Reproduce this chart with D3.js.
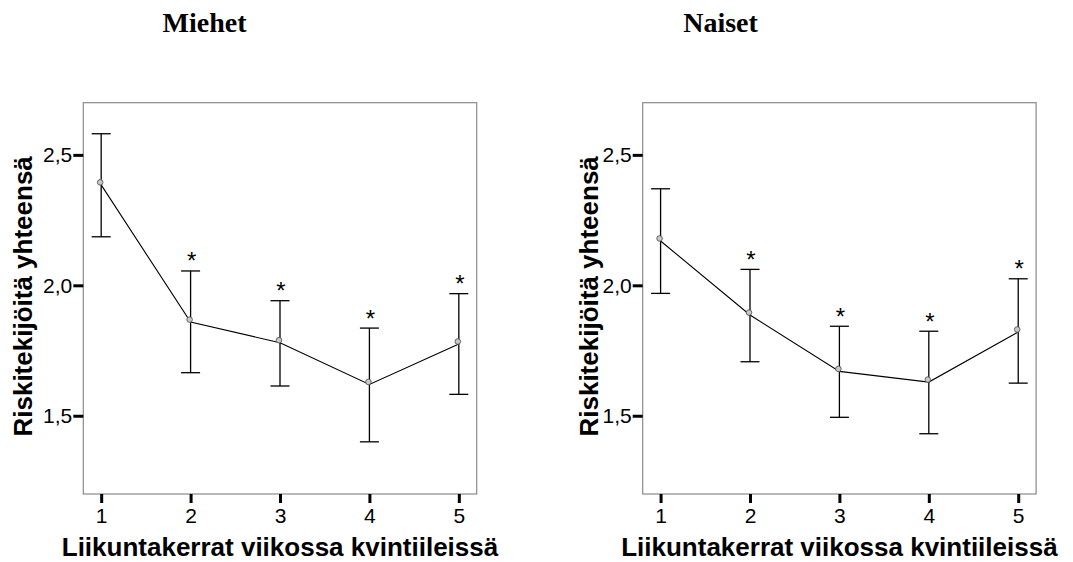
<!DOCTYPE html>
<html>
<head>
<meta charset="utf-8">
<script src="https://cdn.jsdelivr.net/npm/d3@7"></script>
<style>
    body { margin: 0; background: white; }
</style>
</head>
<body>
<div id="chart"></div>
<script>
// Riskitekijöiden keskiarvot ja 95 % luottamusvälit liikuntakvintiileittäin
var groups = [1, 2, 3, 4, 5];
var menMean = [2.385, 1.859, 1.780, 1.620, 1.775];
var menLow = [2.186, 1.665, 1.614, 1.400, 1.582];
var menHigh = [2.581, 2.055, 1.941, 1.836, 1.968];
var womenMean = [2.170, 1.886, 1.670, 1.629, 1.821];
var womenLow = [1.969, 1.707, 1.494, 1.431, 1.625];
var womenHigh = [2.370, 2.061, 1.843, 1.824, 2.025];
var significant = [false, true, true, true, true];
var yTicks = [1.5, 2.0, 2.5];
var yTickLabels = ["1,5", "2,0", "2,5"];
var xLabel = "Liikuntakerrat viikossa kvintiileissä";
var yLabel = "Riskitekijöitä yhteensä";

var width = 1073, height = 562;
var boxW = 393.4, boxH = 391.3, boxTop = 102.7;
var sans = "'Liberation Sans', Arial, sans-serif";
var serif = "'Liberation Serif', 'Times New Roman', serif";

var svg = d3.select("#chart")
    .append("svg")
    .attr("width", width)
    .attr("height", height);

function drawPanel(title, titleX, boxLeft, yLabelX, mean, low, high) {
    var xScale = d3.scaleLinear()
        .domain([0.8, 5.2])
        .range([boxLeft, boxLeft + boxW]);

    var yScale = d3.scaleLinear()
        .domain([1.2, 2.7])
        .range([boxTop + boxH, boxTop]);

    var data = groups.map(function(g, i) {
        return { g: g, mean: mean[i], low: low[i], high: high[i], sig: significant[i] };
    });

    // Title
    svg.append("text")
        .attr("x", titleX)
        .attr("y", 31.5)
        .attr("text-anchor", "middle")
        .attr("font-family", serif)
        .attr("font-weight", "bold")
        .attr("font-size", "28px")
        .text(title);

    // Frame
    svg.append("rect")
        .attr("x", boxLeft)
        .attr("y", boxTop)
        .attr("width", boxW)
        .attr("height", boxH)
        .attr("fill", "none")
        .attr("stroke", "#8a8a8a")
        .attr("stroke-width", 1.2);

    // Y axis
    var yAxis = svg.append("g")
        .attr("transform", "translate(" + boxLeft + ",0)")
        .call(d3.axisLeft(yScale)
            .tickValues(yTicks)
            .tickFormat(function(d, i) { return yTickLabels[i]; })
            .tickSize(10)
            .tickPadding(1));
    yAxis.select(".domain").remove();
    yAxis.selectAll("line").attr("stroke", "black").attr("stroke-width", 3);
    yAxis.selectAll("text")
        .attr("font-family", sans)
        .attr("font-size", "21px")
        .attr("fill", "black");

    // X axis
    var xAxis = svg.append("g")
        .attr("transform", "translate(0," + (boxTop + boxH) + ")")
        .call(d3.axisBottom(xScale)
            .tickValues(groups)
            .tickFormat(d3.format("d"))
            .tickSize(9)
            .tickPadding(5));
    xAxis.select(".domain").remove();
    xAxis.selectAll("line").attr("stroke", "black").attr("stroke-width", 3);
    xAxis.selectAll("text")
        .attr("font-family", sans)
        .attr("font-size", "21px")
        .attr("fill", "black");

    // Axis titles
    svg.append("text")
        .attr("x", boxLeft + boxW / 2)
        .attr("y", 556)
        .attr("text-anchor", "middle")
        .attr("font-family", sans)
        .attr("font-weight", "bold")
        .attr("font-size", "26px")
        .text(xLabel);

    svg.append("text")
        .attr("transform", "translate(" + yLabelX + "," + (boxTop + boxH / 2 - 2) + ") rotate(-90)")
        .attr("text-anchor", "middle")
        .attr("font-family", sans)
        .attr("font-weight", "bold")
        .attr("font-size", "26px")
        .text(yLabel);

    // Error bars
    var bars = svg.append("g");
    bars.selectAll("line.stem")
        .data(data)
        .enter().append("line")
        .attr("class", "stem")
        .attr("x1", function(d) { return xScale(d.g); })
        .attr("x2", function(d) { return xScale(d.g); })
        .attr("y1", function(d) { return yScale(d.low); })
        .attr("y2", function(d) { return yScale(d.high); })
        .attr("stroke", "black")
        .attr("stroke-width", 1.3);

    ["low", "high"].forEach(function(k) {
        bars.selectAll("line.cap-" + k)
            .data(data)
            .enter().append("line")
            .attr("class", "cap-" + k)
            .attr("x1", function(d) { return xScale(d.g) - 9.5; })
            .attr("x2", function(d) { return xScale(d.g) + 9.5; })
            .attr("y1", function(d) { return yScale(d[k]); })
            .attr("y2", function(d) { return yScale(d[k]); })
            .attr("stroke", "black")
            .attr("stroke-width", 1.3);
    });

    // Mean line
    var line = d3.line()
        .x(function(d) { return xScale(d.g); })
        .y(function(d) { return yScale(d.mean); });

    svg.append("path")
        .datum(data)
        .attr("d", line)
        .attr("fill", "none")
        .attr("stroke", "black")
        .attr("stroke-width", 1.1);

    // Mean markers (sit a touch above-left of the line vertex, as in the original)
    svg.selectAll(null)
        .data(data)
        .enter().append("circle")
        .attr("cx", function(d) { return xScale(d.g) - 1; })
        .attr("cy", function(d) { return yScale(d.mean) - 2.5; })
        .attr("r", 2.8)
        .attr("fill", "#c8c8c8")
        .attr("stroke", "#555")
        .attr("stroke-width", 0.9);

    // Significance stars
    svg.selectAll(null)
        .data(data.filter(function(d) { return d.sig; }))
        .enter().append("text")
        .attr("x", function(d) { return xScale(d.g) + 1; })
        .attr("y", function(d) { return yScale(d.high) - 1.5; })
        .attr("text-anchor", "middle")
        .attr("font-family", sans)
        .attr("font-size", "24px")
        .attr("fill", "black")
        .text("*");
}

drawPanel("Miehet", 204.5, 83.3, 32, menMean, menLow, menHigh);
drawPanel("Naiset", 720.5, 642.7, 598, womenMean, womenLow, womenHigh);
</script>
</body>
</html>
